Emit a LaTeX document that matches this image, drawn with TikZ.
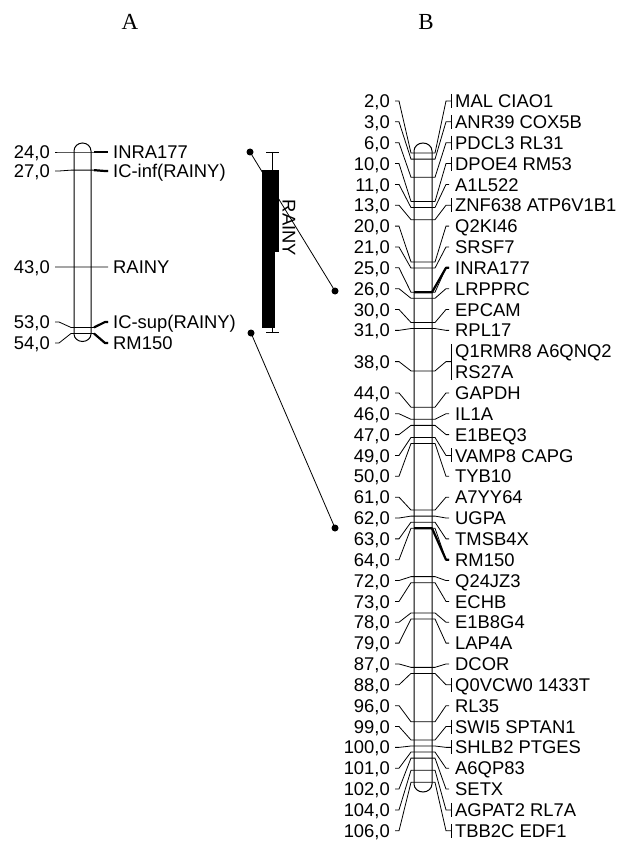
\documentclass[tikz,border=0pt]{standalone}
\usepackage{fontspec}
\setmainfont{Liberation Sans}
\newfontfamily\titlefont{Liberation Serif}
\begin{document}
\begin{tikzpicture}[x=1pt,y=1pt,
  lbl/.style={font=\fontsize{18.4}{20}\selectfont, inner sep=0pt},
  rlbl/.style={lbl, anchor=base west},
  llbl/.style={lbl, anchor=base east},
  conn/.style={line width=0.8pt},
  boldconn/.style={line width=2.2pt, line join=round},
  chromo/.style={line width=1pt, fill=white},
  ttl/.style={font=\titlefont\fontsize{23}{26}\selectfont, inner sep=0pt},
  dotnode/.style={circle, fill=black, inner sep=0pt, minimum size=7pt}
]
\useasboundingbox (0,-845) rectangle (623,0);
\fill[white] (0,-845) rectangle (623,0);

\node[ttl] (titleA) at (130,-22) {A};
\node[ttl] (titleB) at (426,-22) {B};

% ---------------- Chromosome A ----------------
\draw[chromo] (74,-151) arc[start angle=180, end angle=0, x radius=8.5, y radius=8]
  -- (91,-334) arc[start angle=0, end angle=-180, x radius=8.5, y radius=7.5] -- cycle;
\foreach \cm/\yl/\txt/\b in {24/152/INRA177/1, 27/171/{IC-inf(RAINY)}/1, 43/267/RAINY/0,
    53/322/{IC-sup(RAINY)}/1, 54/343/RM150/1}{
  \pgfmathsetmacro\yc{-(152+6.05*(\cm-24))}
  \coordinate (aL\cm) at (74,\yc);
  \coordinate (aR\cm) at (91,\yc);
  \node[llbl] (aP\cm) at (50,-\yl-6.6) {\cm,0};
  \coordinate (aPe\cm) at (55,-\yl);
  \node[rlbl] (aN\cm) at (113,-\yl-6.6) {\txt};
  \coordinate (aNe\cm) at (108,-\yl);
  \draw[conn] (aPe\cm) -- ++(4,0) -- ([xshift=-3pt]aL\cm) -- (aL\cm) -- (aR\cm)
    -- ([xshift=3pt]aR\cm) -- ([xshift=-3pt]aNe\cm) -- (aNe\cm);
  \ifnum\b=1
    \draw[boldconn] ([xshift=3pt]aR\cm) -- ([xshift=-3pt]aNe\cm) -- (aNe\cm);
  \fi
}

% ---------------- QTL interval ----------------
\fill (262,-170) rectangle (279,-252);
\fill (262,-252) rectangle (275,-328);
\draw[conn] (266,-152) -- (279,-152) (272,-152) -- (272,-170);
\draw[conn] (272,-328) -- (272,-332) (266,-332) -- (279,-332);
\node[lbl, rotate=-90] (qtl) at (289,-228) {RAINY};

\node[dotnode] (d1) at (250,-152) {};
\node[dotnode] (d2) at (335,-291) {};
\node[dotnode] (d3) at (251,-333) {};
\node[dotnode] (d4) at (335,-528) {};
\draw[conn] (d1.center) -- (d2.center);
\draw[conn] (d3.center) -- (d4.center);

% ---------------- Chromosome B ----------------
\draw[chromo] (414,-151) arc[start angle=180, end angle=0, x radius=9, y radius=8]
  -- (432,-784) arc[start angle=0, end angle=-180, x radius=9, y radius=8] -- cycle;
\foreach \cm/\r/\txt/\br in {2/0/{MAL CIAO1}/1, 3/1/{ANR39 COX5B}/1, 6/2/{PDCL3 RL31}/1,
    10/3/{DPOE4 RM53}/1, 11/4/A1L522/0, 13/5/{ZNF638 ATP6V1B1}/1, 20/6/Q2KI46/0,
    21/7/SRSF7/0, 25/8/INRA177/0, 26/9/LRPPRC/0, 30/10/EPCAM/0, 31/11/RPL17/0,
    44/14/GAPDH/0, 46/15/IL1A/0, 47/16/E1BEQ3/0, 49/17/{VAMP8 CAPG}/1, 50/18/TYB10/0,
    61/19/A7YY64/0, 62/20/UGPA/0, 63/21/TMSB4X/0, 64/22/RM150/0, 72/23/Q24JZ3/0,
    73/24/ECHB/0, 78/25/E1B8G4/0, 79/26/LAP4A/0, 87/27/DCOR/0, 88/28/{Q0VCW0 1433T}/1,
    96/29/RL35/0, 99/30/{SWI5 SPTAN1}/1, 100/31/{SHLB2 PTGES}/1, 101/32/A6QP83/0,
    102/33/SETX/0, 104/34/{AGPAT2 RL7A}/1, 106/35/{TBB2C EDF1}/1}{
  \pgfmathsetmacro\yc{-(141+6.05*\cm)}
  \pgfmathsetmacro\yl{-(101+20.85*\r)}
  \coordinate (bL\cm) at (414,\yc);
  \coordinate (bR\cm) at (432,\yc);
  \node[llbl] (bP\cm) at (390,\yl-6.6) {\cm,0};
  \coordinate (bPe\cm) at (395,\yl);
  \node[rlbl] (bN\cm) at (455,\yl-6.6) {\txt};
  \ifnum\br=1
    \coordinate (bNe\cm) at (451,\yl);
    \draw[conn] (451,\yl+7) -- (451,\yl-7);
  \else
    \coordinate (bNe\cm) at (449,\yl);
  \fi
  \draw[conn] (bPe\cm) -- ++(4,0) -- ([xshift=-3pt]bL\cm) -- (bL\cm) -- (bR\cm)
    -- ([xshift=3pt]bR\cm) -- (446,\yl) -- (bNe\cm);
}
% marker at 38,0 with a two-line label
\coordinate (bL38) at (414,-370.9);
\coordinate (bR38) at (432,-370.9);
\node[llbl] (bP38) at (390,-361.6-6.6) {38,0};
\coordinate (bPe38) at (395,-361.6);
\node[rlbl] (bN38a) at (455,-351.2-6.6) {Q1RMR8 A6QNQ2};
\node[rlbl] (bN38b) at (455,-372.1-6.6) {RS27A};
\coordinate (bNe38) at (451,-361.6);
\draw[conn] (451,-344.2) -- (451,-380);
\draw[conn] (bPe38) -- ++(4,0) -- ([xshift=-3pt]bL38) -- (bL38) -- (bR38)
  -- ([xshift=3pt]bR38) -- (446,-361.6) -- (bNe38);

% bold markers shared with map A
\draw[boldconn] (bL25) -- (bR25) -- (446,-267.8) -- (bNe25);
\draw[boldconn] (bL64) -- (bR64) -- (446,-559.7) -- (bNe64);
\end{tikzpicture}
\end{document}
